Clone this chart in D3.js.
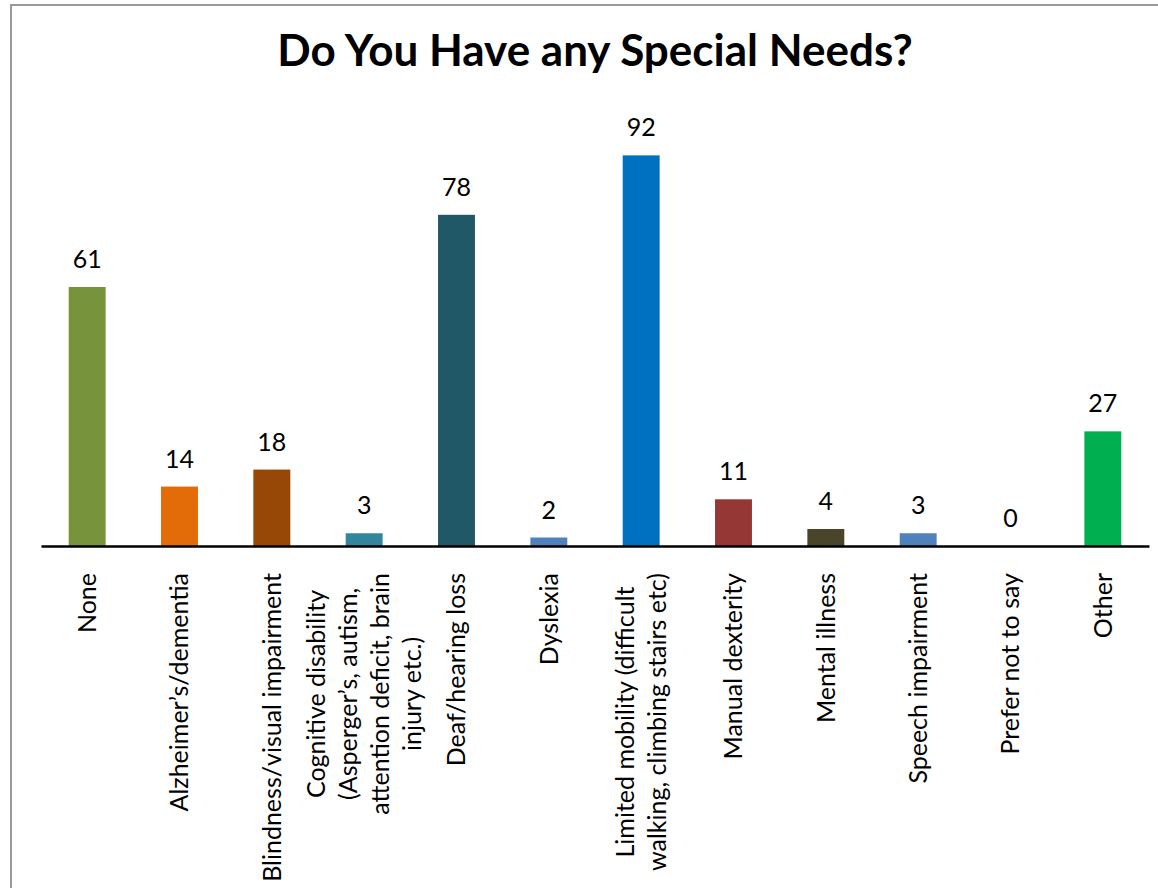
<!DOCTYPE html>
<html>
<head>
<meta charset="utf-8">
<script src="https://cdnjs.cloudflare.com/ajax/libs/d3/7.8.5/d3.min.js"></script>
<style>
  html, body { margin: 0; padding: 0; background: #fff; }
  svg { display: block; }
</style>
</head>
<body>
<svg id="chart" width="1158" height="888"></svg>
<script>
const title = "Do You Have any Special Needs?";
const categories = [
  "None",
  "Alzheimer’s/dementia",
  "Blindness/visual impairment",
  "Cognitive disability\n(Asperger’s, autism,\nattention deficit, brain\ninjury etc.)",
  "Deaf/hearing loss",
  "Dyslexia",
  "Limited mobility (difficult\nwalking, climbing stairs etc)",
  "Manual dexterity",
  "Mental illness",
  "Speech impairment",
  "Prefer not to say",
  "Other"
];
const values = [61, 14, 18, 3, 78, 2, 92, 11, 4, 3, 0, 27];
const colors = ["#77933C", "#E36C09", "#974806", "#31859C", "#215868", "#4F81BD",
                "#0070C0", "#953735", "#4A452A", "#4F81BD", "#4F81BD", "#00B050"];

const FONT = "Lato, 'Open Sans', sans-serif";
const svg = d3.select("#chart");

// chart border
svg.append("rect")
  .attr("x", 11).attr("y", 5)
  .attr("width", 1200).attr("height", 950)
  .attr("fill", "none").attr("stroke", "#999").attr("stroke-width", 2);

const axisY = 546;
const x = d3.scaleBand().domain(categories).range([41, 1149])
  .paddingInner(0.6).paddingOuter(0.3);
const y = d3.scaleLinear().domain([0, 100]).range([axisY, 121.4]);

// title
svg.append("text")
  .attr("x", 595).attr("y", 66)
  .attr("text-anchor", "middle")
  .attr("font-family", FONT).attr("font-weight", "bold")
  .attr("font-size", 44).attr("fill", "#000")
  .text(title);

// bars
svg.append("g").selectAll("rect")
  .data(categories)
  .join("rect")
  .attr("x", d => x(d))
  .attr("width", x.bandwidth())
  .attr("y", (d, i) => y(values[i]))
  .attr("height", (d, i) => y(0) - y(values[i]))
  .attr("fill", (d, i) => colors[i]);

// value labels
svg.append("g").selectAll("text")
  .data(categories)
  .join("text")
  .attr("x", d => x(d) + x.bandwidth() / 2)
  .attr("y", (d, i) => y(values[i]) - 19)
  .attr("text-anchor", "middle")
  .attr("font-family", FONT).attr("font-size", 25).attr("fill", "#000")
  .text((d, i) => values[i]);

// x axis
const xAxis = d3.axisBottom(x).tickSize(0).tickFormat("");
const gx = svg.append("g").attr("transform", `translate(0,${axisY})`).call(xAxis);
gx.select(".domain").attr("stroke", "#000").attr("stroke-width", 2.5);

// category labels (rotated, multi-line, centered lines)
const lineH = 32;
const labelTop = 573;
const lg = svg.append("g");
categories.forEach(cat => {
  const lines = cat.split("\n");
  const cx = x(cat) + x.bandwidth() / 2;
  const t = lg.append("text")
    .attr("transform", `translate(${cx},${labelTop}) rotate(-90)`)
    .attr("font-family", FONT).attr("font-size", 25).attr("fill", "#000");
  const spans = lines.map((ln, i) => t.append("tspan")
    .attr("x", 0)
    .attr("y", (i - (lines.length - 1) / 2) * lineH)
    .attr("dy", "0.35em")
    .text(ln));
  const maxW = d3.max(spans, s => s.node().getComputedTextLength());
  spans.forEach(s => s.attr("x", -maxW / 2).attr("text-anchor", "middle"));
});
</script>
</body>
</html>
